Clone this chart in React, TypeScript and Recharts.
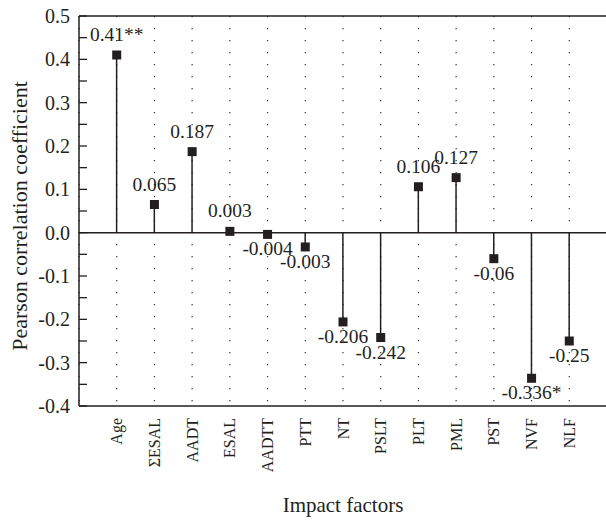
import React from 'react';
import {
  ComposedChart,
  Bar,
  Scatter,
  XAxis,
  YAxis,
  CartesianGrid,
  ReferenceLine,
  LabelList,
} from 'recharts';

const categories = ['Age', 'ΣESAL', 'AADT', 'ESAL', 'AADTT', 'PTT', 'NT', 'PSLT', 'PLT', 'PML', 'PST', 'NVF', 'NLF'];
const values = [0.41, 0.065, 0.187, 0.003, -0.004, -0.033, -0.206, -0.242, 0.106, 0.127, -0.06, -0.336, -0.25];
const valueLabels = ['0.41**', '0.065', '0.187', '0.003', '-0.004', '-0.003', '-0.206', '-0.242', '0.106', '0.127', '-0.06', '-0.336*', '-0.25'];
const yTicks = [-0.4, -0.35, -0.3, -0.25, -0.2, -0.15, -0.1, -0.05, 0, 0.05, 0.1, 0.15, 0.2, 0.25, 0.3, 0.35, 0.4, 0.45, 0.5];
const yTickLabels: Record<string, string> = {
  '-0.4': '-0.4', '-0.3': '-0.3', '-0.2': '-0.2', '-0.1': '-0.1', '0': '0.0',
  '0.1': '0.1', '0.2': '0.2', '0.3': '0.3', '0.4': '0.4', '0.5': '0.5',
};
const xTicks = categories.map((_, i) => i + 1);

const data = categories.map((name, i) => ({ x: i + 1, name, value: values[i], label: valueLabels[i] }));

const INK = '#231f20';
const FONT = "'Liberation Serif', 'Times New Roman', serif";
const TXT = { fontFamily: FONT };

const YTick = (props: any) => {
  const { x, y, payload } = props;
  const v = Math.round(payload.value * 100) / 100;
  const lbl = yTickLabels[String(v)];
  const axisX = x + 9;
  return (
    <g>
      <line x1={axisX} x2={axisX + 8} y1={y} y2={y} stroke={INK} strokeWidth={1.3} />
      {lbl !== undefined && (
        <text x={x} y={y} textAnchor="end" dominantBaseline="central" fontSize={20} fill={INK} style={TXT}>
          {lbl}
        </text>
      )}
    </g>
  );
};

const XTick = (props: any) => {
  const { x, y, payload } = props;
  const name = categories[payload.value - 1] ?? '';
  return (
    <text
      transform={`translate(${x},${y}) rotate(-90)`}
      textAnchor="end"
      dominantBaseline="central"
      fontSize={16}
      fill={INK}
      style={TXT}
    >
      {name}
    </text>
  );
};

const ValueLabel = (props: any) => {
  const { x, y, width, height, index } = props;
  const cx = x + (width || 0) / 2;
  const cy = y + (height || 0) / 2;
  const v = values[index];
  const ty = v >= 0 ? cy - 14 : cy + 21;
  return (
    <text x={cx} y={ty} textAnchor="middle" fontSize={19.5} fill={INK} style={TXT}>
      {valueLabels[index]}
    </text>
  );
};

const Square = (props: any) => {
  const { cx, cy } = props;
  return <rect x={cx - 4.5} y={cy - 4.5} width={9} height={9} fill={INK} />;
};

const YTitle = (props: any) => {
  const vb = props.viewBox;
  const cx = 19;
  const cy = vb.y + vb.height / 2 + 5;
  return (
    <text
      transform={`translate(${cx},${cy}) rotate(-90)`}
      textAnchor="middle"
      dominantBaseline="central"
      fontSize={22}
      fill={INK}
      style={TXT}
    >
      Pearson correlation coefficient
    </text>
  );
};

const XTitle = (props: any) => {
  const vb = props.viewBox;
  return (
    <text x={vb.x + vb.width / 2} y={512} textAnchor="middle" fontSize={21} fill={INK} style={TXT}>
      Impact factors
    </text>
  );
};

export default function App() {
  return (
    <div style={{ position: 'absolute', left: 0, top: 0, width: 606, height: 521, overflow: 'hidden', background: '#fff', fontFamily: FONT }}>
      <ComposedChart
        width={640}
        height={521}
        data={data}
        margin={{ top: 16, right: 33, bottom: 0, left: 0 }}
        style={TXT}
      >
        <CartesianGrid
          horizontal={false}
          vertical={true}
          stroke="#333"
          strokeWidth={1.2}
          strokeDasharray="1.3 10.7"
        />
        <XAxis
          dataKey="x"
          type="number"
          domain={[0, 14]}
          ticks={xTicks}
          interval={0}
          height={115}
          tickLine={false}
          tickSize={0}
          tickMargin={12}
          axisLine={{ stroke: INK, strokeWidth: 1.5 }}
          tick={<XTick />}
          label={<XTitle />}
        />
        <YAxis
          type="number"
          domain={[-0.4, 0.5]}
          ticks={yTicks}
          interval={0}
          width={79}
          tickLine={false}
          tickSize={0}
          tickMargin={9}
          axisLine={{ stroke: INK, strokeWidth: 1.5 }}
          tick={<YTick />}
          label={<YTitle />}
        />
        <ReferenceLine y={0.5} stroke={INK} strokeWidth={1.5} />
        <ReferenceLine y={0} stroke={INK} strokeWidth={1.5} />
        <Bar dataKey="value" barSize={1.5} fill={INK} isAnimationActive={false} />
        <Scatter dataKey="value" shape={<Square />} isAnimationActive={false}>
          <LabelList dataKey="label" content={<ValueLabel />} />
        </Scatter>
      </ComposedChart>
    </div>
  );
}
